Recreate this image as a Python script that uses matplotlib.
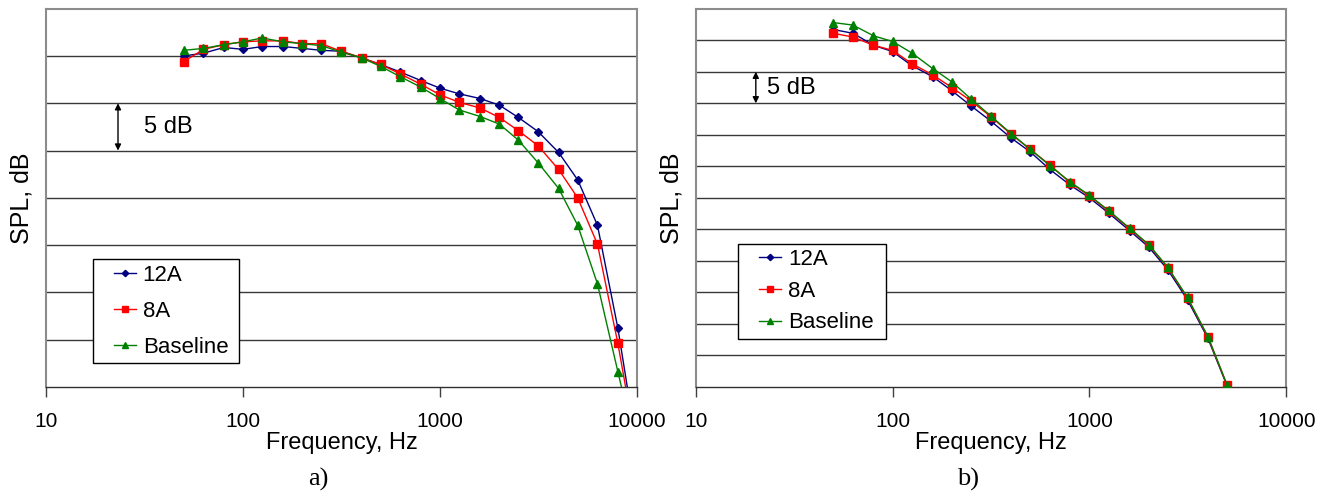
import matplotlib
matplotlib.use("Agg")
import matplotlib.pyplot as plt
from matplotlib.legend_handler import HandlerLine2D

plt.rcParams['font.family'] = ['Liberation Sans', 'DejaVu Sans']

# 1/3-octave band centre frequencies, Hz
freq_a = [50, 63, 80, 100, 125, 160, 200, 250, 315, 400, 500, 630, 800,
          1000, 1250, 1600, 2000, 2500, 3150, 4000, 5000, 6300, 8000, 10000]
freq_b = [50, 63, 80, 100, 125, 160, 200, 250, 315, 400, 500, 630, 800,
          1000, 1250, 1600, 2000, 2500, 3150, 4000, 5000]

# Panel a) relative SPL, dB
spl_a_12a = [35.0, 35.3, 35.9, 35.7, 36.0, 36.0, 35.8, 35.6, 35.5, 34.8, 34.1, 33.3,
             32.4, 31.6, 31.0, 30.5, 29.8, 28.5, 27.0, 24.8, 21.9, 17.1, 6.2, -6.4]
spl_a_8a = [34.4, 35.7, 36.2, 36.5, 36.6, 36.6, 36.3, 36.3, 35.5, 34.8, 34.1, 33.1,
            32.0, 30.9, 30.1, 29.5, 28.5, 27.1, 25.5, 23.0, 20.0, 15.1, 4.6, -6.8]
spl_a_base = [35.6, 35.8, 36.2, 36.5, 36.9, 36.5, 36.3, 36.1, 35.4, 34.8, 33.9, 32.8,
              31.7, 30.5, 29.3, 28.6, 27.8, 26.1, 23.7, 21.0, 17.1, 10.9, 1.6, -7.0]

# Panel b) relative SPL, dB
spl_b_12a = [56.7, 56.1, 54.2, 53.2, 51.0, 49.2, 47.0, 44.6, 42.2, 39.5, 37.3, 34.5,
             32.0, 30.0, 27.6, 24.8, 22.2, 18.6, 13.8, 7.7, 0.2]
spl_b_8a = [56.1, 55.5, 54.2, 53.4, 51.3, 49.5, 47.5, 45.4, 42.9, 40.1, 37.7, 35.2,
            32.4, 30.3, 27.9, 25.1, 22.5, 18.9, 14.1, 7.9, 0.3]
spl_b_base = [57.8, 57.4, 55.7, 54.8, 53.0, 50.5, 48.4, 45.7, 43.0, 40.2, 37.7, 35.1,
              32.5, 30.4, 28.0, 25.2, 22.6, 19.0, 14.2, 8.0, 0.35]

series_labels = ['12A', '8A', 'Baseline']
series_colors = ['#000080', '#ff0000', '#008000']
series_markers = ['D', 's', '^']
series_msize = [4.3, 5.3, 5.8]

x_ticks = [10, 100, 1000, 10000]
x_ticklabels = ['10', '100', '1000', '10000']

W, H = 1335, 495
fig = plt.figure(figsize=(W / 100, H / 100), dpi=100)


def px_axes(x0, x1, y0, y1):
    return fig.add_axes([x0 / W, 1 - y1 / H, (x1 - x0) / W, (y1 - y0) / H])


def style_axes(ax, ymax, step):
    ax.set_xscale('log')
    ax.set_xlim(10, 10000)
    ax.set_ylim(0, ymax)
    for y in range(step, ymax, step):
        ax.axhline(y, color='#383838', lw=1.0, zorder=1)
    ax.set_xticks(x_ticks)
    ax.set_xticklabels(x_ticklabels)
    ax.minorticks_off()
    ax.set_yticks([])
    ax.tick_params(axis='x', direction='out', length=7, width=1.0, color='#404040',
                   labelsize=15, pad=11)
    for side in ('left', 'top', 'right'):
        ax.spines[side].set_color('#8c8c8c')
        ax.spines[side].set_linewidth(1.5)
    ax.spines['bottom'].set_color('#303030')
    ax.spines['bottom'].set_linewidth(1.0)
    ax.set_xlabel('Frequency, Hz', fontsize=17, labelpad=1)
    ax.set_ylabel('SPL, dB', fontsize=18, labelpad=9)


def draw_series(ax, freq, series):
    for vals, lab, col, mk, ms in zip(series, series_labels, series_colors,
                                      series_markers, series_msize):
        ax.plot(freq, vals, color=col, lw=1.0, marker=mk, markersize=ms,
                markerfacecolor=col, markeredgecolor=col, label=lab, zorder=3)


def add_legend(ax, box, spacing):
    handler = HandlerLine2D(xpad=0.7)
    leg = ax.legend(loc='lower left', bbox_to_anchor=box, mode='expand',
                    borderaxespad=0, fancybox=False, framealpha=1, edgecolor='black',
                    fontsize=16, handlelength=1.7, handletextpad=0.3,
                    borderpad=0.25, labelspacing=spacing, markerscale=0.75,
                    handler_map={matplotlib.lines.Line2D: handler})
    leg.get_frame().set_linewidth(1.0)


def add_scale_mark(ax, x_arrow, x_text, y0, y1):
    ax.annotate('', xy=(x_arrow, y0), xytext=(x_arrow, y1),
                arrowprops=dict(arrowstyle='<|-|>', mutation_scale=9, lw=1.0,
                                color='black', shrinkA=0, shrinkB=0), zorder=4)
    ax.text(x_text, (y0 + y1) / 2, '5 dB', fontsize=17, va='center', ha='left')


# a)
ax_a = px_axes(46, 637, 8.7, 387)
style_axes(ax_a, 40, 5)
draw_series(ax_a, freq_a, [spl_a_12a, spl_a_8a, spl_a_base])
add_legend(ax_a, (0.079, 0.0627, 0.248, 0.28), 0.68)
add_scale_mark(ax_a, 23.2, 31.5, 25, 30)

# b)
ax_b = px_axes(695.7, 1286.3, 8.7, 387)
style_axes(ax_b, 60, 5)
draw_series(ax_b, freq_b, [spl_b_12a, spl_b_8a, spl_b_base])
add_legend(ax_b, (0.0716, 0.127, 0.25, 0.25), 0.48)
add_scale_mark(ax_b, 20.2, 23.0, 45, 50)

fig.text(318 / W, 1 - 479 / H, 'a)', fontsize=19, family='Liberation Serif',
         ha='center', va='center')
fig.text(968 / W, 1 - 479 / H, 'b)', fontsize=19, family='Liberation Serif',
         ha='center', va='center')

fig.savefig('out.png', dpi=100, facecolor='white')
